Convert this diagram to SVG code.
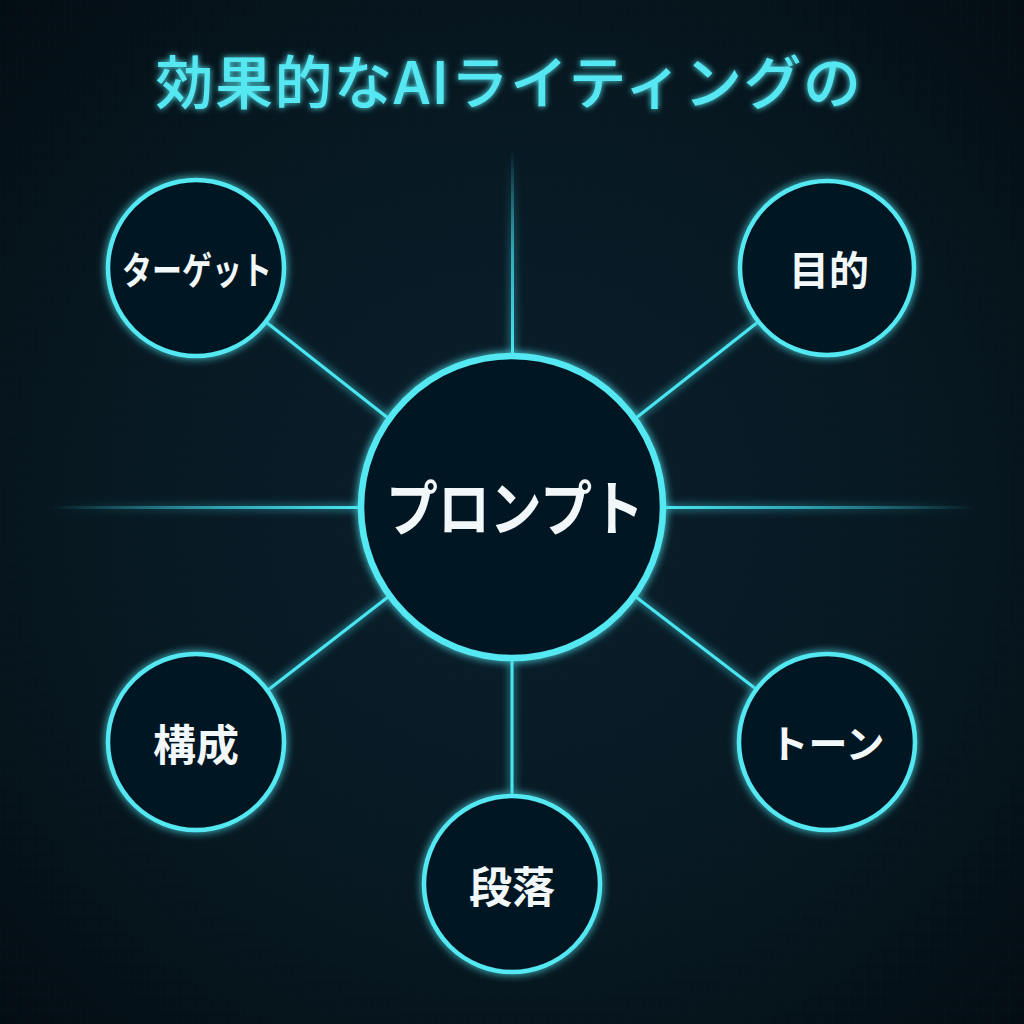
<svg xmlns="http://www.w3.org/2000/svg" width="1024" height="1024" viewBox="0 0 1024 1024">
<defs>
<radialGradient id="bg" cx="50%" cy="50%" r="70%">
<stop offset="0" stop-color="#0a1f2c"/>
<stop offset="0.6" stop-color="#071821"/>
<stop offset="1" stop-color="#040d13"/>
</radialGradient>
<pattern id="grid" width="16" height="16" patternUnits="userSpaceOnUse">
<path d="M16 0H0V16" fill="none" stroke="#12303c" stroke-width="0.6" opacity="0.22"/>
</pattern>
<linearGradient id="fadeL" x1="0" y1="0" x2="1" y2="0">
<stop offset="0" stop-color="#3fd8ea" stop-opacity="0"/>
<stop offset="0.5" stop-color="#3fd8ea" stop-opacity="0.6"/>
<stop offset="1" stop-color="#4ae6f2"/>
</linearGradient>
<linearGradient id="fadeR" x1="1" y1="0" x2="0" y2="0">
<stop offset="0" stop-color="#3fd8ea" stop-opacity="0"/>
<stop offset="0.5" stop-color="#3fd8ea" stop-opacity="0.6"/>
<stop offset="1" stop-color="#4ae6f2"/>
</linearGradient>
<linearGradient id="fadeT" x1="0" y1="0" x2="0" y2="1">
<stop offset="0" stop-color="#3fd8ea" stop-opacity="0"/>
<stop offset="0.5" stop-color="#3fd8ea" stop-opacity="0.7"/>
<stop offset="1" stop-color="#4ae6f2"/>
</linearGradient>
<filter id="glow" x="-30%" y="-30%" width="160%" height="160%">
<feGaussianBlur in="SourceGraphic" stdDeviation="4" result="b"/>
<feMerge><feMergeNode in="b"/><feMergeNode in="SourceGraphic"/></feMerge>
</filter>
<filter id="tglow" x="-10%" y="-30%" width="120%" height="160%">
<feGaussianBlur in="SourceGraphic" stdDeviation="3" result="b"/>
<feMerge><feMergeNode in="b"/><feMergeNode in="SourceGraphic"/></feMerge>
</filter>
<style>
.ring{fill:#061923;stroke:#52e8f2;stroke-width:4.5;filter:url(#glow)}
.hub{fill:#061923;stroke:#52e8f2;stroke-width:6.5;filter:url(#glow)}
.conn{stroke:#4ae6f2;stroke-width:3;fill:none}
.lbl{font-family:"Noto Sans CJK JP","Noto Sans",sans-serif;font-weight:700;fill:#f2f8fa;text-anchor:middle}
.title{font-family:"Noto Sans CJK JP","Noto Sans",sans-serif;font-weight:500;fill:#55e8f3;text-anchor:middle}
</style>
</defs>
<rect width="1024" height="1024" fill="url(#bg)"/>
<rect width="1024" height="1024" fill="url(#grid)"/>
<text class="title" x="509" y="104" font-size="58" letter-spacing="1.5" filter="url(#tglow)">効果的なAIライティングの</text>
<g id="connectors" filter="url(#glow)">
<rect x="50" y="506" width="312" height="3" fill="url(#fadeL)"/>
<rect x="662" y="506" width="312" height="3" fill="url(#fadeR)"/>
<rect x="511" y="150" width="3" height="207" fill="url(#fadeT)"/>
<line class="conn" x1="512" y1="657" x2="512" y2="796"/>
<line class="conn" x1="266" y1="322" x2="388" y2="418"/>
<line class="conn" x1="758" y1="322" x2="636" y2="418"/>
<line class="conn" x1="268" y1="690" x2="388" y2="597"/>
<line class="conn" x1="756" y1="689" x2="636" y2="597"/>
</g>
<g id="node-prompt">
<circle class="hub" cx="512" cy="507" r="151"/>
<text class="lbl" x="515" y="531" font-size="60" textLength="258" lengthAdjust="spacingAndGlyphs">プロンプト</text>
</g>
<g id="node-target">
<circle class="ring" cx="196" cy="268" r="88"/>
<text class="lbl" x="197" y="284" font-size="38" textLength="150" lengthAdjust="spacingAndGlyphs">ターゲット</text>
</g>
<g id="node-purpose">
<circle class="ring" cx="827" cy="268" r="87"/>
<text class="lbl" x="829" y="285" font-size="40">目的</text>
</g>
<g id="node-structure">
<circle class="ring" cx="196" cy="742" r="88"/>
<text class="lbl" x="196" y="761" font-size="43">構成</text>
</g>
<g id="node-tone">
<circle class="ring" cx="827" cy="742" r="88"/>
<text class="lbl" x="827" y="758" font-size="39">トーン</text>
</g>
<g id="node-paragraph">
<circle class="ring" cx="512" cy="884" r="88"/>
<text class="lbl" x="512" y="903" font-size="43">段落</text>
</g>
</svg>
